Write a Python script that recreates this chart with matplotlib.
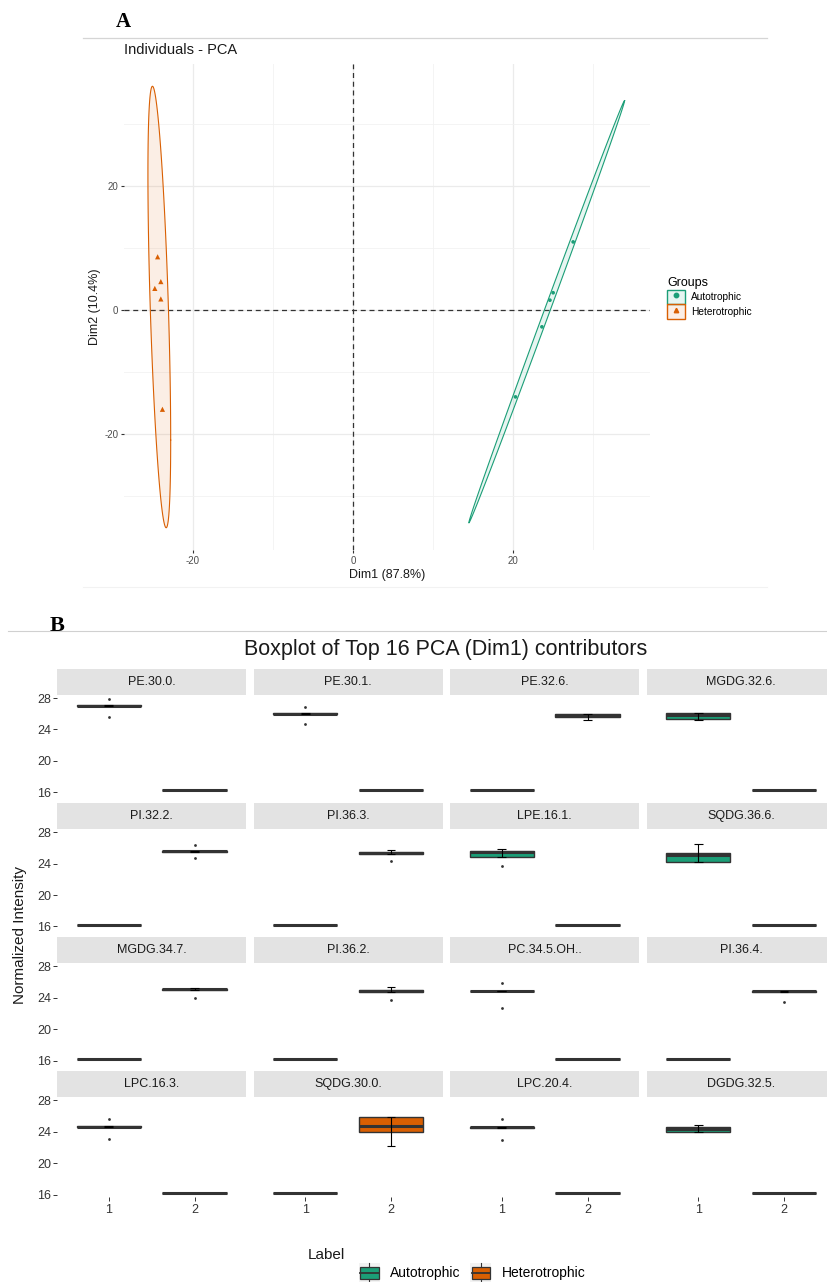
import numpy as np
import matplotlib
matplotlib.use('Agg')
import matplotlib.pyplot as plt
from matplotlib.lines import Line2D
from matplotlib.patches import Patch, Rectangle
from matplotlib.colors import to_rgba
from matplotlib.legend_handler import HandlerBase, HandlerTuple

plt.rcParams['font.family'] = ['Liberation Sans', 'DejaVu Sans']
plt.rcParams['axes.unicode_minus'] = False

# ---------------- panel A : PCA individuals ----------------
auto_dim1 = [27.5, 25.0, 24.6, 23.6, 20.3]
auto_dim2 = [11.0, 2.8, 1.6, -2.7, -14.0]
het_dim1 = [-24.4, -24.0, -24.75, -24.0, -23.8]
het_dim2 = [8.6, 4.6, 3.5, 1.8, -16.0]
group_names = ['Autotrophic', 'Heterotrophic']
group_colors = ['#1B9E77', '#D95F02']
group_markers = ['o', '^']
F_95 = 6.944  # qf(0.95, 2, n-1) with n = 5 (stat_ellipse type norm)

# ---------------- panel B : top 16 Dim1 contributors ----------------
lipids = ['PE.30.0.', 'PE.30.1.', 'PE.32.6.', 'MGDG.32.6.',
          'PI.32.2.', 'PI.36.3.', 'LPE.16.1.', 'SQDG.36.6.',
          'MGDG.34.7.', 'PI.36.2.', 'PC.34.5.OH..', 'PI.36.4.',
          'LPC.16.3.', 'SQDG.30.0.', 'LPC.20.4.', 'DGDG.32.5.']
high_group = [1, 1, 2, 1, 2, 2, 1, 1, 2, 2, 1, 2, 1, 2, 1, 1]
high_q1 = [26.98, 25.95, 25.62, 25.32, 25.50, 25.22, 24.90, 24.25,
           24.97, 24.72, 24.80, 24.72, 24.60, 24.02, 24.50, 24.00]
high_med = [27.02, 26.00, 25.82, 25.80, 25.58, 25.35, 25.42, 25.05,
            25.05, 24.85, 24.85, 24.80, 24.65, 24.74, 24.56, 24.36]
high_q3 = [27.08, 26.08, 26.00, 26.05, 25.65, 25.45, 25.62, 25.30,
           25.13, 24.98, 24.90, 24.88, 24.70, 25.90, 24.62, 24.56]
high_lo = [26.98, 25.95, 25.25, 25.25, 25.50, 25.22, 24.90, 24.25,
           24.97, 24.72, 24.80, 24.72, 24.60, 22.23, 24.50, 23.98]
high_hi = [27.08, 26.08, 26.00, 26.12, 25.65, 25.75, 25.87, 26.55,
           25.25, 25.35, 24.90, 24.88, 24.70, 25.90, 24.62, 24.90]
high_out = [[27.87, 25.65], [26.80, 24.70], [], [],
            [26.33, 24.66], [24.30], [23.70], [],
            [23.95], [23.66], [25.85, 22.70], [23.50],
            [25.60, 23.07], [], [25.60, 22.90], []]
low_level = [16.25] * 16

W, H = 827, 1282
fig = plt.figure(figsize=(W / 100, H / 100), dpi=100)


def fx(px):
    return px / W


def fy(py):
    return 1 - py / H


def ellipse_pts(x, y, fq=F_95, n=120):
    x = np.asarray(x)
    y = np.asarray(y)
    cov = np.cov(x, y)
    L = np.linalg.cholesky(cov)
    t = np.linspace(0, 2 * np.pi, n)
    circ = np.column_stack([np.cos(t), np.sin(t)])
    pts = circ @ L.T * np.sqrt(2 * fq) + [x.mean(), y.mean()]
    return pts[:, 0], pts[:, 1]


# ---- A ----
fig.text(fx(116), fy(22), 'A', family=['Liberation Serif', 'DejaVu Serif'],
         weight='bold', fontsize=15, va='center')
fig.add_artist(Line2D([fx(83), fx(767)], [fy(38), fy(38)], color='#D5D5D5', lw=0.9))
fig.add_artist(Line2D([fx(83), fx(767)], [fy(587), fy(587)], color='#F2F2F2', lw=0.8))

ax = fig.add_axes([fx(124), fy(550), (650 - 124) / W, (550 - 64) / H])
ax.set_xlim(-28.6, 37.1)
ax.set_ylim(-38.7, 39.7)
ax.set_xticks([-20, 0, 20])
ax.set_xticks([-10, 10, 30], minor=True)
ax.set_yticks([-20, 0, 20])
ax.set_yticks([-30, -10, 10, 30], minor=True)
ax.grid(which='major', color='#EBEBEB', lw=0.9)
ax.grid(which='minor', color='#F2F2F2', lw=0.6)
ax.set_axisbelow(True)
for s in ax.spines.values():
    s.set_visible(False)
ax.tick_params(which='major', length=2.5, width=0.8, color='#333333',
               labelcolor='#4D4D4D', labelsize=7, pad=1.5)
ax.tick_params(which='minor', length=0)
ax.axhline(0, color='#333333', lw=0.9, ls=(0, (4, 3)), zorder=1)
ax.axvline(0, color='#333333', lw=0.9, ls=(0, (4, 3)), zorder=1)

handles = []
for gx, gy, col, mk, nm in zip([auto_dim1, het_dim1], [auto_dim2, het_dim2],
                               group_colors, group_markers, group_names):
    ex, ey = ellipse_pts(gx, gy)
    ax.fill(ex, ey, color=to_rgba(col, 0.1), lw=0, zorder=2)
    ax.plot(ex, ey, color=col, lw=0.8, zorder=3)
    ax.scatter(gx, gy, marker=mk, s=14 if mk == '^' else 7, color=col,
               edgecolors='none', zorder=4)
    handles.append((Patch(facecolor=to_rgba(col, 0.1), edgecolor=col, lw=1.0),
                    Line2D([], [], marker=mk, color=col, ls='none', markersize=3.2)))

fig.text(fx(124), fy(50), 'Individuals - PCA', fontsize=10.5, va='center', color='#1A1A1A')
fig.text(fx(387), fy(575), 'Dim1 (87.8%)', fontsize=9, ha='center', va='center', color='#1A1A1A')
fig.text(fx(95), fy(307), 'Dim2 (10.4%)', fontsize=9, ha='center', va='center',
         rotation=90, color='#1A1A1A')

ax.legend(handles, group_names, title='Groups', loc='upper left',
          bbox_to_anchor=(fx(667), fy(277)), bbox_transform=fig.transFigure,
          frameon=False, fontsize=7.3, title_fontsize=9, alignment='left',
          handlelength=1.8, handleheight=1.8, handletextpad=0.6,
          labelspacing=0.05, borderpad=0, borderaxespad=0,
          handler_map={tuple: HandlerTuple(ndivide=1)})

# ---- B ----
fig.text(fx(50), fy(626), 'B', family=['Liberation Serif', 'DejaVu Serif'],
         weight='bold', fontsize=16, va='center')
fig.add_artist(Line2D([fx(8), fx(827)], [fy(631), fy(631)], color='#D0D0D0', lw=0.8))
fig.text(fx(446), fy(649), 'Boxplot of Top 16 PCA (Dim1) contributors',
         fontsize=15.5, ha='center', va='center', color='#1A1A1A')

all_vals = low_level + high_lo + high_hi + [v for o in high_out for v in o]
vmin, vmax = min(all_vals), max(all_vals)
pad = 0.05 * (vmax - vmin)
ylims = (vmin - pad, vmax + pad)

pw, ph, sh = 188.7, 100.5, 25.8
for i, name in enumerate(lipids):
    r, c = divmod(i, 4)
    left = 57.3 + c * 196.5
    stop = 668.7 + r * 134.1
    ptop = stop + sh
    fig.add_artist(Rectangle((fx(left), fy(ptop)), pw / W, sh / H,
                             transform=fig.transFigure, fc='#E3E3E3', ec='none'))
    fig.text(fx(left + pw / 2), fy(stop + sh / 2), name, fontsize=9,
             ha='center', va='center', color='#1A1A1A')
    a = fig.add_axes([fx(left), fy(ptop + ph), pw / W, ph / H])
    stats = []
    for g in (1, 2):
        if g == high_group[i]:
            stats.append(dict(med=high_med[i], q1=high_q1[i], q3=high_q3[i],
                              whislo=high_lo[i], whishi=high_hi[i], fliers=high_out[i]))
        else:
            lv = low_level[i]
            stats.append(dict(med=lv, q1=lv, q3=lv, whislo=lv, whishi=lv, fliers=[]))
    bp = a.bxp(stats, positions=[1, 2], widths=0.75, patch_artist=True, showcaps=False,
               boxprops=dict(edgecolor='#333333', lw=1.0),
               medianprops=dict(color='#333333', lw=2.2),
               flierprops=dict(marker='o', markersize=2.0, markerfacecolor='#333333',
                               markeredgecolor='none'))
    for box, col in zip(bp['boxes'], group_colors):
        box.set_facecolor(col)
    for w in bp['whiskers']:
        w.set_visible(False)
    for pos, st in zip([1, 2], stats):
        if st['whishi'] > st['whislo']:
            a.vlines(pos, st['whislo'], st['whishi'], color='black', lw=0.8, zorder=4)
            a.hlines([st['whislo'], st['whishi']], pos - 0.05, pos + 0.05,
                     color='black', lw=0.8, zorder=4)
    a.set_xlim(0.4, 2.6)
    a.set_ylim(*ylims)
    a.set_yticks([16, 20, 24, 28])
    a.set_xticks([1, 2])
    a.set_xticklabels(['1', '2'])
    for s in a.spines.values():
        s.set_visible(False)
    a.tick_params(length=3, width=0.7, color='#333333', labelsize=9,
                  labelcolor='#333333', pad=1.5)
    a.tick_params(axis='y', left=(c == 0), labelleft=(c == 0))
    a.tick_params(axis='x', bottom=(r == 3), labelbottom=(r == 3))

fig.text(fx(20), fy(935), 'Normalized Intensity', fontsize=11, rotation=90,
         ha='center', va='center', color='#1A1A1A')


class BoxKey(HandlerBase):
    def create_artists(self, legend, orig_handle, xdescent, ydescent,
                       width, height, fontsize, trans):
        x0, y0 = -xdescent, -ydescent
        col = orig_handle.get_facecolor()
        bg = Rectangle((x0, y0), width, height, fc='#F2F2F2', ec='none', transform=trans)
        box = Rectangle((x0 + 0.05 * width, y0 + 0.22 * height), 0.9 * width, 0.56 * height,
                        fc=col, ec='#333333', lw=0.9, transform=trans)
        med = Line2D([x0 + 0.05 * width, x0 + 0.95 * width], [y0 + 0.5 * height] * 2,
                     color='#333333', lw=1.3, transform=trans)
        w1 = Line2D([x0 + 0.5 * width] * 2, [y0, y0 + 0.22 * height],
                    color='#333333', lw=0.8, transform=trans)
        w2 = Line2D([x0 + 0.5 * width] * 2, [y0 + 0.78 * height, y0 + height],
                    color='#333333', lw=0.8, transform=trans)
        return [bg, box, med, w1, w2]


fig.text(fx(308), fy(1255), 'Label', fontsize=11, va='center', color='#1A1A1A')
fig.legend([Patch(facecolor=c) for c in group_colors], group_names,
           handler_map={Patch: BoxKey()}, loc='center left',
           bbox_to_anchor=(fx(359), fy(1273)), ncol=2, frameon=False, fontsize=10,
           handlelength=1.5, handleheight=1.9, handletextpad=0.75,
           columnspacing=0.7, borderpad=0, borderaxespad=0)

fig.savefig('out.png', dpi=100)
